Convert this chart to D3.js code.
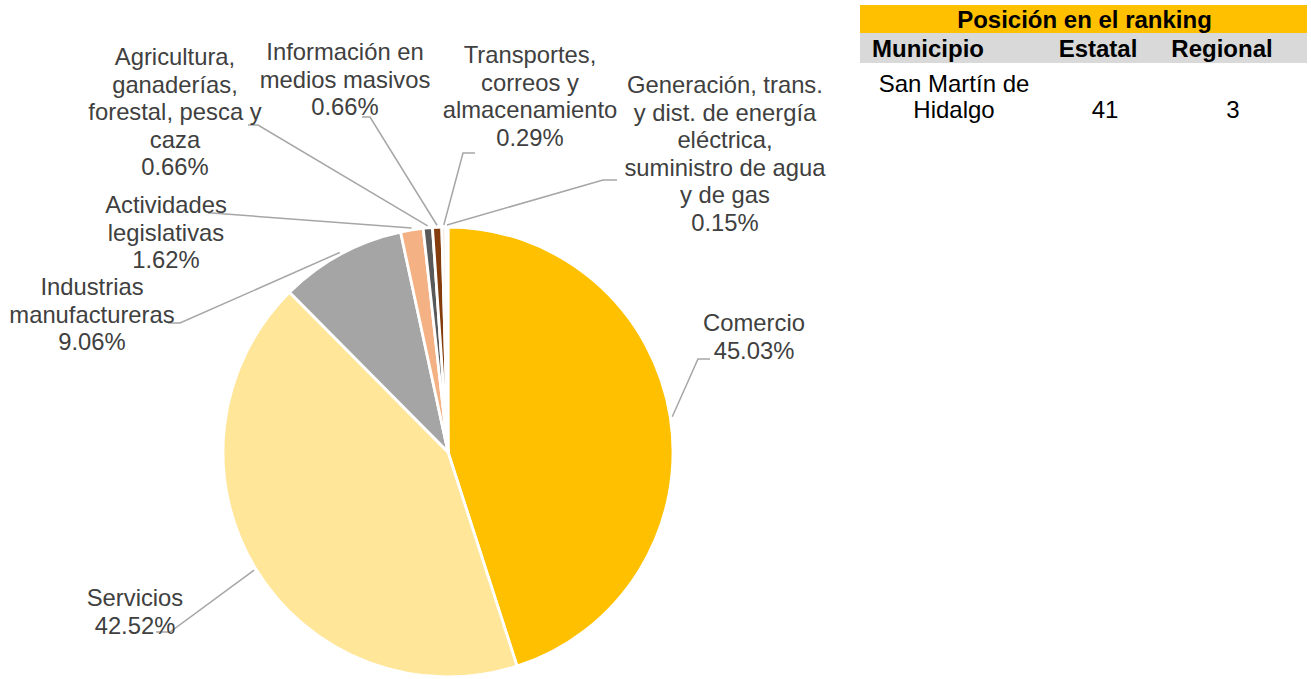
<!DOCTYPE html>
<html>
<head>
<meta charset="utf-8">
<script src="https://cdn.jsdelivr.net/npm/d3@7"></script>
<style>
  body { margin: 0; background: #fff; }
  svg { font-family: "Liberation Sans", Arial, sans-serif; }
</style>
</head>
<body>
<div id="chart"></div>
<script>
// sectores y porcentajes
const sectors = [
  ["Comercio"],
  ["Servicios"],
  ["Industrias", "manufactureras"],
  ["Actividades", "legislativas"],
  ["Agricultura,", "ganaderías,", "forestal, pesca y", "caza"],
  ["Información en", "medios masivos"],
  ["Transportes,", "correos y", "almacenamiento"],
  ["Generación, trans.", "y dist. de energía", "eléctrica,", "suministro de agua", "y de gas"]
];
const shares = [45.03, 42.52, 9.06, 1.62, 0.66, 0.66, 0.29, 0.15];
const colors = ["#FFC000", "#FFE699", "#A5A5A5", "#F4B183", "#595959", "#843C0C", "#FBE5D6", "#FFF2CC"];

// tabla de ranking
const tableTitle = "Posición en el ranking";
const tableCols = ["Municipio", "Estatal", "Regional"];
const tableRow = [["San Martín de", "Hidalgo"], "41", "3"];

// ubicación de etiquetas: [x texto, y primera línea, codo x, codo y, fin x]
const labelLayout = [
  [754, 323, 698, 359, 710],
  [135, 598, 170, 632, 156],
  [92, 287, 180, 323, 168],
  [166, 205, 212, 213, 208],
  [175, 57, 258, 125, 248],
  [345, 52, 370, 117, 362],
  [530, 55, 463, 153, 475],
  [725, 85, 603, 180, 617]
];

const w = 1311, h = 679;
const cx = 448, cy = 452, r = 225;
const lineH = 27.5;
const fs = "23.8px";

const svg = d3.select("#chart").append("svg")
  .attr("width", w)
  .attr("height", h);

const pie = d3.pie().sort(null).value(d => d);
const arcs = pie(shares);
const arc = d3.arc().innerRadius(0).outerRadius(r);

const g = svg.append("g").attr("transform", "translate(" + cx + "," + cy + ")");

g.selectAll("path")
  .data(arcs)
  .enter()
  .append("path")
  .attr("d", arc)
  .attr("fill", (d, i) => colors[i])
  .attr("stroke", "#fff")
  .attr("stroke-width", 2.8);

// líneas guía
svg.selectAll("polyline.leader")
  .data(arcs)
  .enter()
  .append("polyline")
  .attr("class", "leader")
  .attr("points", (d, i) => {
    const a = (d.startAngle + d.endAngle) / 2;
    const sx = cx + (r + 2) * Math.sin(a);
    const sy = cy - (r + 2) * Math.cos(a);
    const L = labelLayout[i];
    return [[sx, sy], [L[2], L[3]], [L[4], L[3]]].map(p => p.join(",")).join(" ");
  })
  .attr("fill", "none")
  .attr("stroke", "#A6A6A6")
  .attr("stroke-width", 1.5);

// etiquetas
const labels = svg.selectAll("text.lbl")
  .data(arcs)
  .enter()
  .append("text")
  .attr("class", "lbl")
  .attr("text-anchor", "middle")
  .attr("fill", "#404040")
  .style("font-size", fs);

labels.each(function (d, i) {
  const t = d3.select(this);
  const L = labelLayout[i];
  const lines = sectors[i].concat([shares[i].toFixed(2) + "%"]);
  lines.forEach((s, k) => {
    t.append("tspan")
      .attr("x", L[0])
      .attr("y", L[1] + k * lineH + 8)
      .text(s);
  });
});

// tabla
const tx0 = 860, tx1 = 1307;
svg.append("rect").attr("x", tx0).attr("y", 5).attr("width", tx1 - tx0).attr("height", 28).attr("fill", "#FFC000");
svg.append("rect").attr("x", tx0).attr("y", 33).attr("width", tx1 - tx0).attr("height", 30).attr("fill", "#D9D9D9");

svg.append("text")
  .attr("x", (tx0 + tx1) / 2 + 1)
  .attr("y", 28)
  .attr("text-anchor", "middle")
  .attr("font-weight", "bold")
  .style("font-size", "24px")
  .text(tableTitle);

const colX = [872, 1098, 1222];
const colAnchor = ["start", "middle", "middle"];
svg.selectAll("text.col")
  .data(tableCols)
  .enter()
  .append("text")
  .attr("class", "col")
  .attr("x", (d, i) => colX[i])
  .attr("y", 57)
  .attr("text-anchor", (d, i) => colAnchor[i])
  .attr("font-weight", "bold")
  .style("font-size", "24px")
  .text(d => d);

const rowX = [954, 1105, 1233];
tableRow.forEach((cell, i) => {
  const lines = Array.isArray(cell) ? cell : [cell];
  const t = svg.append("text")
    .attr("text-anchor", "middle")
    .style("font-size", "24px")
    .attr("fill", "#000");
  lines.forEach((s, k) => {
    t.append("tspan")
      .attr("x", rowX[i])
      .attr("y", 118 - (lines.length - 1 - k) * 26)
      .text(s);
  });
});
</script>
</body>
</html>
